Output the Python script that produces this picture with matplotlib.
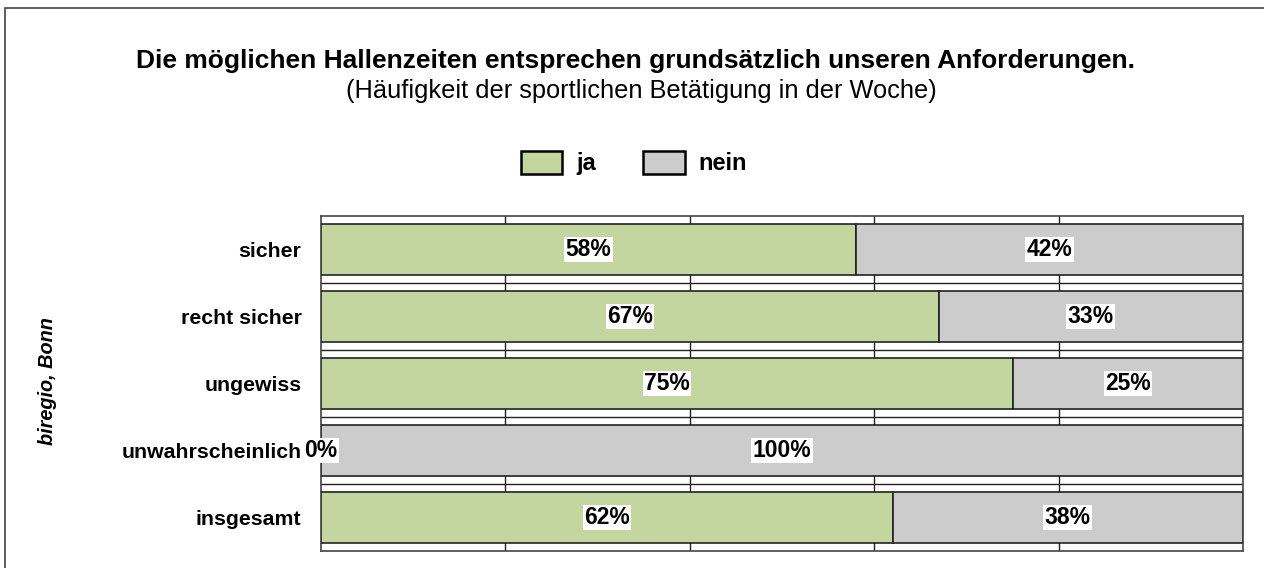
import matplotlib.pyplot as plt
import matplotlib.patches as mpatches
import numpy as np

plt.rcParams['font.family'] = ['Liberation Sans', 'DejaVu Sans']

categories = ['sicher', 'recht sicher', 'ungewiss', 'unwahrscheinlich', 'insgesamt']
ja = [58, 67, 75, 0, 62]
nein = [42, 33, 25, 100, 38]
series_names = ['ja', 'nein']
colors = ['#C4D6A0', '#CCCCCC']

title = 'Die möglichen Hallenzeiten entsprechen grundsätzlich unseren Anforderungen.'
subtitle = '(Häufigkeit der sportlichen Betätigung in der Woche)'

W, H = 1264, 568
fig = plt.figure(figsize=(W / 100, H / 100), dpi=100)
ax = fig.add_axes([321 / W, 1 - 551 / H, (1243 - 321) / W, (551 - 216) / H])

y = np.arange(len(categories))
ja_frac = np.array(ja) / 100
nein_frac = np.array(nein) / 100

# bars
ax.barh(y, ja_frac, height=0.77, color=colors[0], edgecolor='#222222', linewidth=1.2, zorder=3)
ax.barh(y, nein_frac, left=ja_frac, height=0.77, color=colors[1], edgecolor='#222222', linewidth=1.2, zorder=3)

# value labels with white box
lab_kw = dict(ha='center', va='center', fontsize=16.5, fontweight='bold', zorder=5, clip_on=False,
              bbox=dict(facecolor='white', edgecolor='none', pad=1))
for i in range(len(categories)):
    ax.text(ja_frac[i] / 2, y[i], f'{ja[i]}%', **lab_kw)
    ax.text(ja_frac[i] + nein_frac[i] / 2, y[i], f'{nein[i]}%', **lab_kw)

ax.set_xlim(0, 1)
ax.set_ylim(len(categories) - 0.5, -0.5)
ax.set_yticks(y)
ax.set_yticklabels(categories, fontsize=15.3, fontweight='bold')
ax.tick_params(axis='y', length=0, pad=14)
ax.set_xticks(np.arange(0.2, 1.0, 0.2))
ax.tick_params(axis='x', length=0, labelbottom=False)
ax.set_yticks(np.arange(0.5, len(categories) - 0.5, 1), minor=True)
ax.tick_params(axis='y', which='minor', length=0)
ax.grid(True, axis='x', color='#222222', linewidth=1, zorder=0)
ax.grid(True, axis='y', which='minor', color='#222222', linewidth=1, zorder=0)
ax.set_axisbelow(True)
for s in ax.spines.values():
    s.set_color('#444444')
    s.set_linewidth(1.2)

ax.set_ylabel('biregio, Bonn', fontsize=14.3, fontweight='bold', style='italic', labelpad=0)
ax.yaxis.set_label_coords((57 - 321) / (1243 - 321), (551 - 381) / (551 - 216))

fig.text(636 / W, 1 - 61 / H, title, ha='center', va='center', fontsize=19, fontweight='bold')
fig.text(641 / W, 1 - 91 / H, subtitle, ha='center', va='center', fontsize=18.3)

handles = [mpatches.Patch(facecolor=c, edgecolor='black', linewidth=1.8, label=n)
           for c, n in zip(colors, series_names)]
leg = fig.legend(handles=handles, ncol=2, loc='center', bbox_to_anchor=(634 / W, 1 - 163 / H),
                 frameon=False, handlelength=1.75, handleheight=1.15, columnspacing=2.0,
                 handletextpad=0.6, prop=dict(size=17, weight='bold'))

# outer border
fig.patches.append(mpatches.Rectangle((5 / W, -0.01), 1.02, 1 - 8 / H + 0.01, transform=fig.transFigure,
                                      fill=False, edgecolor='#444444', linewidth=1.2))

fig.savefig('out.png', dpi=100)
